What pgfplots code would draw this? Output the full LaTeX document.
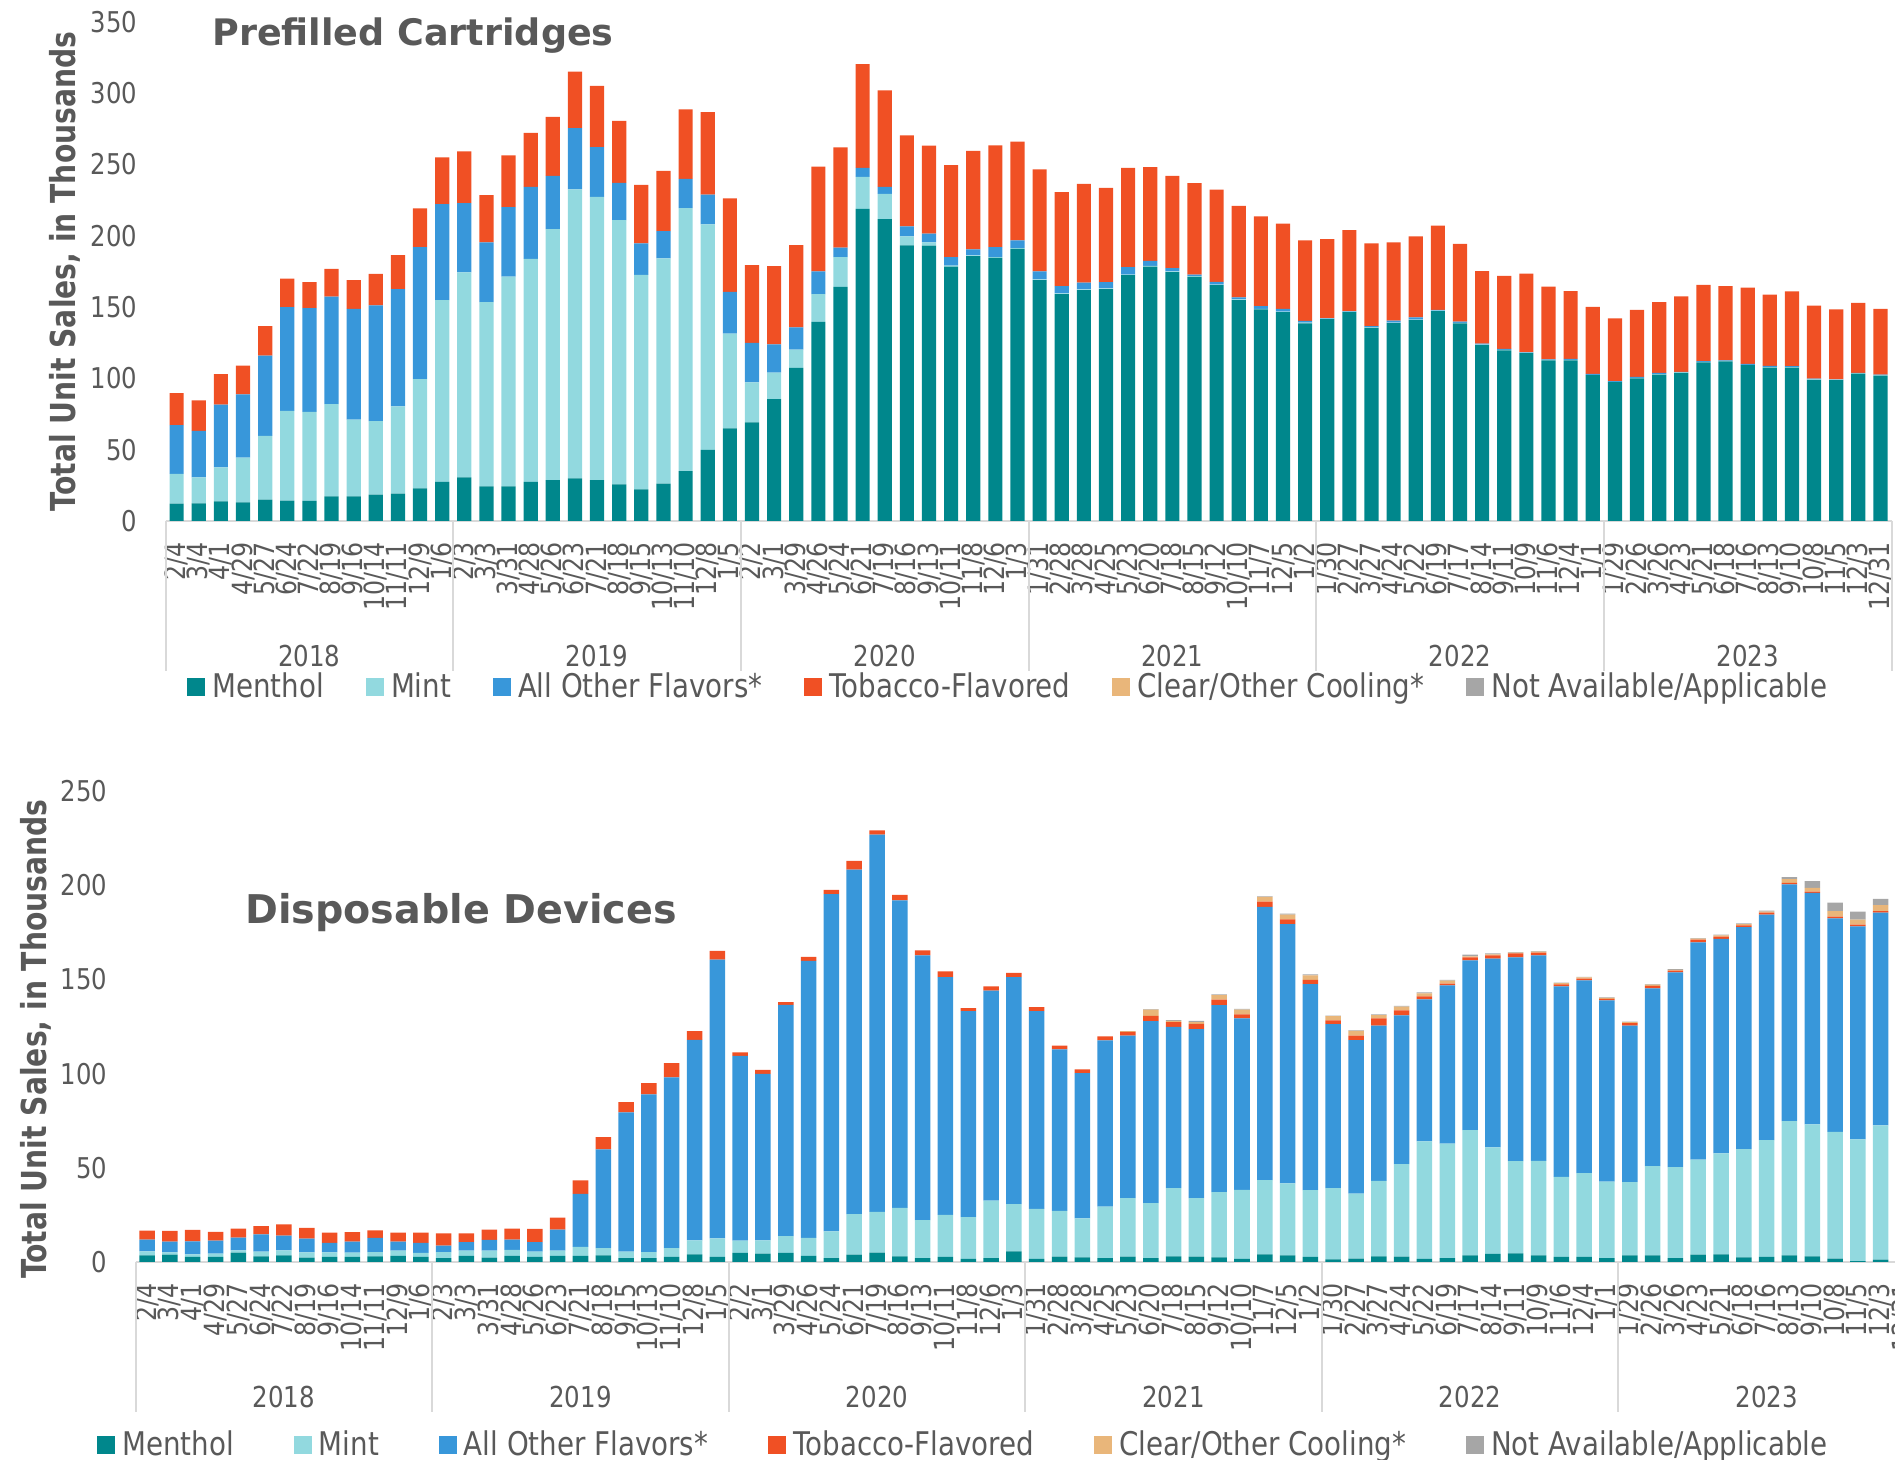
\documentclass[border=0pt]{standalone}
\usepackage{pgfplots}
\pgfplotsset{compat=1.18}
\usepackage{pgfplotstable}
\usepackage{fontspec}
\setmainfont{DejaVu Sans}[FakeStretch=0.85]
\newfontfamily\ylfont{DejaVu Sans}[FakeStretch=0.82]
\newfontfamily\ttlfont{DejaVu Sans}
\definecolor{txt}{HTML}{595959}
\definecolor{cMen}{HTML}{00878C}
\definecolor{cMint}{HTML}{92D9DF}
\definecolor{cOth}{HTML}{3897DA}
\definecolor{cTob}{HTML}{F05024}
\definecolor{cClr}{HTML}{E9B67A}
\definecolor{cNA}{HTML}{A6A6A6}
\definecolor{axgray}{HTML}{D9D9D9}

\pgfplotstableread{
x m mi o t c n
0 12.1 20.9 34.2 22.4 0 0
1 12.4 18.2 32.5 21.4 0 0
2 13.8 23.8 44.0 21.3 0 0
3 13.1 31.3 44.4 20.2 0 0
4 15.0 44.7 56.3 20.7 0 0
5 14.3 62.9 72.8 19.9 0 0
6 14.1 62.4 72.8 18.2 0 0
7 17.2 64.8 75.3 19.4 0 0
8 17.2 53.9 77.7 20.1 0 0
9 18.4 51.7 81.1 22.1 0 0
10 19.2 61.1 82.3 23.8 0 0
11 22.8 76.7 92.5 27.2 0 0
12 27.4 127.5 67.2 32.8 0 0
13 30.6 143.7 48.5 36.4 0 0
14 24.3 129.1 42.0 33.0 0 0
15 24.3 147.1 48.7 36.2 0 0
16 27.4 156.3 50.5 37.9 0 0
17 28.6 176.0 37.4 41.3 0 0
18 29.9 202.6 43.0 39.5 0 0
19 28.6 198.6 34.9 43.0 0 0
20 25.7 185.2 26.2 43.5 0 0
21 22.1 150.5 22.1 41.0 0 0
22 26.2 158.0 19.0 42.2 0 0
23 35.0 184.4 20.4 48.8 0 0
24 49.8 158.2 20.9 57.8 0 0
25 65.0 66.3 29.4 65.5 0 0
26 69.2 27.9 27.7 54.6 0 0
27 85.4 18.7 19.7 54.8 0 0
28 107.3 12.8 15.6 57.7 0 0
29 139.6 19.4 16.0 73.5 0 0
30 164.1 20.9 6.7 70.2 0 0
31 218.9 22.4 6.3 72.8 0 0
32 211.7 17.7 4.8 67.7 0 0
33 193.2 6.3 7.1 63.8 0 0
34 193.0 2.4 6.1 61.6 0 0
35 178.4 0.7 5.9 64.5 0 0
36 185.7 0.5 4.3 69.0 0 0
37 184.5 0.5 7.0 71.3 0 0
38 190.8 0.5 5.5 69.2 0 0
39 168.9 0.5 5.6 71.6 0 0
40 159.0 0.5 5.1 66.0 0 0
41 161.9 0.5 4.8 69.2 0 0
42 162.6 0.5 4.4 66.0 0 0
43 172.3 0.5 5.1 69.7 0 0
44 178.4 0.5 3.4 65.8 0 0
45 174.5 0.5 2.2 64.8 0 0
46 171.1 0.5 1.2 64.1 0 0
47 165.3 0.5 1.9 64.6 0 0
48 154.9 0.4 1.5 64.1 0 0
49 148.3 0.5 1.9 62.9 0 0
50 146.4 0.4 2.0 59.7 0 0
51 138.6 0.4 1.3 56.5 0 0
52 141.5 0.3 0.4 55.4 0 0
53 146.4 0.3 0.4 56.8 0 0
54 135.4 0.3 1.0 58.0 0 0
55 138.8 0.3 1.4 54.9 0 0
56 140.8 0.3 1.6 56.8 0 0
57 147.1 0.3 0.7 58.9 0 0
58 138.6 0.3 0.9 54.4 0 0
59 123.3 0.3 0.7 50.9 0 0
60 119.7 0.3 0.6 51.2 0 0
61 117.7 0.3 0.4 55.1 0 0
62 112.6 0.3 0.4 51.0 0 0
63 112.6 0.3 0.7 47.6 0 0
64 102.2 0.3 0.7 47.0 0 0
65 97.3 0.3 0.4 44.0 0 0
66 100.0 0.3 0.7 47.1 0 0
67 102.7 0.3 0.9 49.5 0 0
68 103.9 0.3 0.4 52.9 0 0
69 111.2 0.3 0.6 53.4 0 0
70 111.9 0.3 0.4 52.0 0 0
71 109.2 0.3 0.7 53.4 0 0
72 107.5 0.3 0.9 50.0 0 0
73 107.5 0.3 0.7 52.4 0 0
74 99.0 0.3 0.5 51.2 0 0
75 98.8 0.3 0.2 49.0 0 0
76 103.4 0.3 0.2 49.0 0 0
77 101.9 0.3 0.5 46.1 0 0
}\toptab

\pgfplotstableread{
x m mi o t c n
0 3.5 2.2 6.2 4.8 0 0
1 3.9 1.2 5.7 5.7 0 0
2 2.7 1.4 6.9 6.0 0 0
3 2.7 1.7 6.9 4.7 0 0
4 5.0 1.2 6.7 4.8 0 0
5 3.0 2.5 9.2 4.4 0 0
6 3.5 2.7 7.8 6.0 0 0
7 2.3 2.8 7.3 5.7 0 0
8 2.7 2.4 5.0 5.5 0 0
9 2.7 2.3 5.8 5.0 0 0
10 3.0 2.3 7.5 4.0 0 0
11 3.2 2.8 4.8 4.8 0 0
12 2.7 2.1 5.3 5.5 0 0
13 2.1 3.2 3.4 6.5 0 0
14 3.2 2.8 4.5 4.7 0 0
15 2.3 3.7 5.7 5.5 0 0
16 3.2 3.2 5.5 5.8 0 0
17 2.7 2.8 5.0 7.1 0 0
18 3.2 2.8 11.2 6.4 0 0
19 3.2 4.8 28.2 7.1 0 0
20 3.5 3.8 52.5 6.5 0 0
21 2.1 3.4 73.9 5.5 0 0
22 2.1 3.2 83.7 5.9 0 0
23 2.7 4.6 90.7 7.5 0 0
24 4.1 7.4 106.4 4.6 0 0
25 2.7 9.9 147.9 4.7 0 0
26 4.8 6.5 98.1 1.9 0 0
27 4.4 7.1 88.3 2.2 0 0
28 4.8 8.9 122.8 1.4 0 0
29 3.2 9.6 147.0 2.1 0 0
30 2.1 14.2 178.9 2.3 0 0
31 3.9 21.5 182.9 4.6 0 0
32 5.0 21.6 200.2 2.3 0 0
33 3.0 25.7 163.3 2.9 0 0
34 2.0 20.2 140.6 2.6 0 0
35 2.7 22.3 126.2 3.1 0 0
36 1.6 22.2 109.4 1.6 0 0
37 2.0 30.6 111.5 2.2 0 0
38 5.7 25.0 120.5 2.3 0 0
39 1.6 26.6 105.0 2.1 0 0
40 2.8 24.3 85.8 2.0 0 0
41 2.5 20.7 77.0 2.1 0 0
42 2.0 27.4 88.2 2.1 0 0
43 2.8 31.1 86.3 2.0 0.3 0
44 2.0 29.2 96.6 2.9 3.2 0.3
45 3.0 36.2 85.6 2.5 0.7 0.4
46 2.8 31.1 89.7 2.8 0.9 0.7
47 2.5 34.6 99.2 2.9 2.5 0.3
48 1.6 36.7 91.0 2.1 2.6 0.3
49 4.1 39.3 145.1 2.8 2.5 0.3
50 3.5 38.2 137.6 2.6 2.5 0.5
51 2.7 35.4 109.4 2.3 2.3 0.6
52 1.4 37.8 87.0 2.0 2.3 0.3
53 1.8 34.5 81.4 2.5 2.5 0.3
54 3.0 40.1 82.4 3.8 1.7 0.4
55 2.8 49.2 78.9 2.6 2.0 0.4
56 1.6 62.4 75.4 1.6 1.6 0.5
57 2.1 60.7 84.0 0.9 1.6 0.5
58 3.5 66.5 90.1 1.6 0.5 0.9
59 4.3 56.5 100.2 1.8 0.5 0.5
60 4.6 48.9 108.2 2.1 0.4 0.3
61 3.5 50.2 109.1 1.4 0.5 0.3
62 2.7 42.5 101.1 1.0 0.7 0.3
63 2.7 44.5 102.3 0.9 0.7 0.3
64 2.1 40.5 96.2 0.9 0.5 0.3
65 3.5 38.9 83.1 1.3 0.5 0.3
66 3.5 47.4 94.3 1.4 0.6 0.3
67 2.0 48.4 103.3 0.9 0.5 0.3
68 3.9 50.4 115.4 1.4 0.5 0.3
69 4.1 53.5 113.9 1.2 0.7 0.3
70 2.5 57.4 117.9 0.9 0.7 0.3
71 2.7 62.0 119.7 1.1 0.5 0.5
72 3.5 71.3 125.6 0.8 2.0 1.1
73 3.0 70.0 122.9 0.7 2.0 3.5
74 1.8 67.2 113.4 0.9 3.0 4.5
75 0.5 64.6 113.1 0.9 2.6 4.3
76 1.2 71.3 113.0 0.8 3.1 3.3
77 1.0 66.9 105.0 0.9 3.5 3.6
}\bottab

\tikzset{yearlbl/.style={font=\fontsize{14.4}{16}\selectfont, text=txt}}
\pgfplotsset{
  chartbase/.style={
    scale only axis, anchor=south west,
    ybar stacked,
    xmin=-0.5, xmax=77.5, ymin=0,
    enlargelimits=false,
    axis x line*=bottom, axis y line*=left,
    x axis line style={draw=axgray, line width=1pt},
    y axis line style={draw=none},
    major tick length=0pt,
    xtick={0,...,77},
    xticklabels={2/4,3/4,4/1,4/29,5/27,6/24,7/22,8/19,9/16,10/14,11/11,12/9,1/6,
      2/3,3/3,3/31,4/28,5/26,6/23,7/21,8/18,9/15,10/13,11/10,12/8,1/5,
      2/2,3/1,3/29,4/26,5/24,6/21,7/19,8/16,9/13,10/11,11/8,12/6,1/3,
      1/31,2/28,3/28,4/25,5/23,6/20,7/18,8/15,9/12,10/10,11/7,12/5,1/2,
      1/30,2/27,3/27,4/24,5/22,6/19,7/17,8/14,9/11,10/9,11/6,12/4,1/1,
      1/29,2/26,3/26,4/23,5/21,6/18,7/16,8/13,9/10,10/8,11/5,12/3,12/31},
    xticklabel style={rotate=90, anchor=east, inner sep=0pt, font=\fontsize{13.9}{14}\selectfont, text=txt},
    xticklabel shift=10.5pt,
    yticklabel style={anchor=east, inner sep=0pt, font=\fontsize{14.3}{16}\selectfont, text=txt},
    yticklabel shift=14pt,
    /pgf/number format/assume math mode=true,
    ylabel style={font=\ylfont\bfseries\fontsize{17.2}{20}\selectfont, text=txt, anchor=center},
    clip=false,
    every axis plot/.append style={draw=none},
  },
}

\begin{document}
\begin{tikzpicture}
\useasboundingbox (0,0) rectangle (947.5pt,730pt);
\clip (0,0) rectangle (947.5pt,730pt);

% ---------------- top chart
\begin{axis}[chartbase,
  at={(82.8pt,469.5pt)}, width=862.95pt, height=249.6pt,
  ymax=350, ytick={0,50,...,350},
  bar width=0.64,
  ylabel={Total Unit Sales, in Thousands},
  ylabel style={at={(axis description cs:-0.0583,0.5)}},
  legend image code/.code={\fill[#1] (0pt,-4.6pt) rectangle (9pt,4.4pt);},
  legend style={at={(0.0124,-0.332)}, anchor=west, draw=none, fill=none, inner sep=0pt,
    legend columns=-1, font=\fontsize{16.3}{18}\selectfont, text=txt,
    nodes={inner sep=0pt},
    /tikz/every odd column/.append style={column sep=3.5pt},
    /tikz/every even column/.append style={column sep=21pt}},
]
\addplot[fill=cMen] table[x=x,y=m]{\toptab}; \addlegendentry{Menthol}
\addplot[fill=cMint] table[x=x,y=mi]{\toptab}; \addlegendentry{Mint}
\addplot[fill=cOth] table[x=x,y=o]{\toptab}; \addlegendentry{All Other Flavors*}
\addplot[fill=cTob] table[x=x,y=t]{\toptab}; \addlegendentry{Tobacco-Flavored}
\addplot[fill=cClr] table[x=x,y=c]{\toptab}; \addlegendentry{Clear/Other Cooling*}
\addplot[fill=cNA] table[x=x,y=n]{\toptab}; \addlegendentry{Not Available/Applicable}
\draw[axgray, line width=1pt] (axis cs:-0.5,0) -- ([yshift=-75pt]axis cs:-0.5,0);
\draw[axgray, line width=1pt] (axis cs:12.5,0) -- ([yshift=-75pt]axis cs:12.5,0);
\draw[axgray, line width=1pt] (axis cs:25.5,0) -- ([yshift=-75pt]axis cs:25.5,0);
\draw[axgray, line width=1pt] (axis cs:38.5,0) -- ([yshift=-75pt]axis cs:38.5,0);
\draw[axgray, line width=1pt] (axis cs:51.5,0) -- ([yshift=-75pt]axis cs:51.5,0);
\draw[axgray, line width=1pt] (axis cs:64.5,0) -- ([yshift=-75pt]axis cs:64.5,0);
\draw[axgray, line width=1pt] (axis cs:77.5,0) -- ([yshift=-75pt]axis cs:77.5,0);
\node[yearlbl] at ([yshift=-67.5pt]axis cs:6,0) {2018};
\node[yearlbl] at ([yshift=-67.5pt]axis cs:19,0) {2019};
\node[yearlbl] at ([yshift=-67.5pt]axis cs:32,0) {2020};
\node[yearlbl] at ([yshift=-67.5pt]axis cs:45,0) {2021};
\node[yearlbl] at ([yshift=-67.5pt]axis cs:58,0) {2022};
\node[yearlbl] at ([yshift=-67.5pt]axis cs:71,0) {2023};
\end{axis}
\node[anchor=base west, text=txt, font=\ttlfont\bfseries\fontsize{18.25}{22}\selectfont, inner sep=0pt] at (106pt,707.15pt) {Prefilled Cartridges};

% ---------------- bottom chart
\begin{axis}[chartbase,
  at={(67.85pt,99pt)}, width=889.6pt, height=235.5pt,
  ymax=250, ytick={0,50,...,250},
  bar width=0.68,
  ylabel={Total Unit Sales, in Thousands},
  ylabel style={at={(axis description cs:-0.056,0.473)}},
  legend image code/.code={\fill[#1] (0pt,-4.6pt) rectangle (9pt,4.4pt);},
  legend style={at={(-0.0218,-0.3876)}, anchor=west, draw=none, fill=none, inner sep=0pt,
    legend columns=-1, font=\fontsize{16.3}{18}\selectfont, text=txt,
    nodes={inner sep=0pt},
    /tikz/every odd column/.append style={column sep=3.5pt},
    /tikz/every even column/.append style={column sep=30pt}},
]
\addplot[fill=cMen] table[x=x,y=m]{\bottab}; \addlegendentry{Menthol}
\addplot[fill=cMint] table[x=x,y=mi]{\bottab}; \addlegendentry{Mint}
\addplot[fill=cOth] table[x=x,y=o]{\bottab}; \addlegendentry{All Other Flavors*}
\addplot[fill=cTob] table[x=x,y=t]{\bottab}; \addlegendentry{Tobacco-Flavored}
\addplot[fill=cClr] table[x=x,y=c]{\bottab}; \addlegendentry{Clear/Other Cooling*}
\addplot[fill=cNA] table[x=x,y=n]{\bottab}; \addlegendentry{Not Available/Applicable}
\draw[axgray, line width=1pt] (axis cs:-0.5,0) -- ([yshift=-75pt]axis cs:-0.5,0);
\draw[axgray, line width=1pt] (axis cs:12.5,0) -- ([yshift=-75pt]axis cs:12.5,0);
\draw[axgray, line width=1pt] (axis cs:25.5,0) -- ([yshift=-75pt]axis cs:25.5,0);
\draw[axgray, line width=1pt] (axis cs:38.5,0) -- ([yshift=-75pt]axis cs:38.5,0);
\draw[axgray, line width=1pt] (axis cs:51.5,0) -- ([yshift=-75pt]axis cs:51.5,0);
\draw[axgray, line width=1pt] (axis cs:64.5,0) -- ([yshift=-75pt]axis cs:64.5,0);
\node[yearlbl] at ([yshift=-67.5pt]axis cs:6,0) {2018};
\node[yearlbl] at ([yshift=-67.5pt]axis cs:19,0) {2019};
\node[yearlbl] at ([yshift=-67.5pt]axis cs:32,0) {2020};
\node[yearlbl] at ([yshift=-67.5pt]axis cs:45,0) {2021};
\node[yearlbl] at ([yshift=-67.5pt]axis cs:58,0) {2022};
\node[yearlbl] at ([yshift=-67.5pt]axis cs:71,0) {2023};
\end{axis}
\node[anchor=base west, text=txt, font=\ttlfont\bfseries\fontsize{19.8}{24}\selectfont, inner sep=0pt] at (122.5pt,268pt) {Disposable Devices};
\end{tikzpicture}
\end{document}
